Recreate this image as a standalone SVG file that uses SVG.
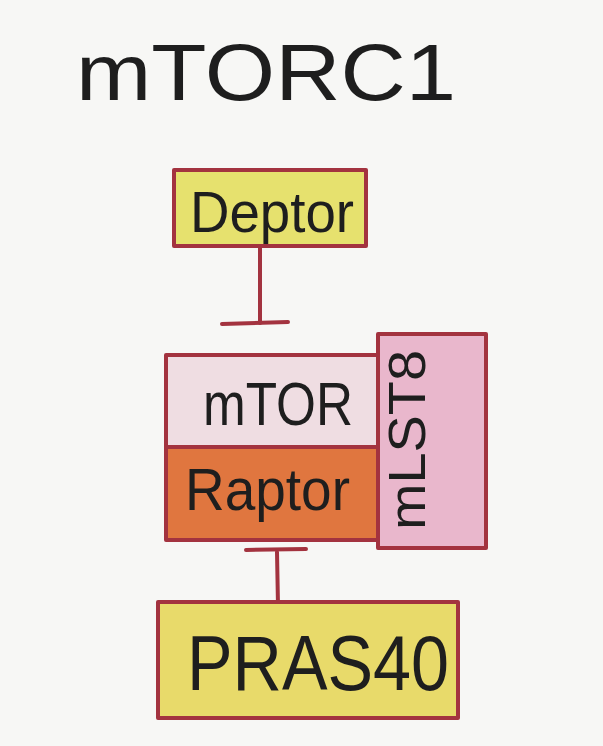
<svg xmlns="http://www.w3.org/2000/svg" width="603" height="746" viewBox="0 0 603 746">
<style>
.lbl{font-family:"Liberation Sans","DejaVu Sans",sans-serif;fill:#1e1e1e;}
.box{stroke:#a3333f;stroke-width:4;stroke-linejoin:round;}
.conn{stroke:#a3333f;stroke-width:4;stroke-linecap:round;fill:none;}
</style>
<rect x="0" y="0" width="603" height="746" fill="#f7f7f5"/>
<g id="title">
<text class="lbl" x="76" y="100" font-size="80" textLength="380" lengthAdjust="spacingAndGlyphs">mTORC1</text>
</g>
<g id="connectors">
<line class="conn" x1="260" y1="248" x2="260" y2="323"/>
<line class="conn" x1="222" y1="324" x2="288" y2="322" stroke-width="6"/>
<line class="conn" x1="277" y1="552" x2="278" y2="606"/>
<line class="conn" x1="246" y1="550" x2="306" y2="549" stroke-width="6"/>
</g>
<g id="deptor">
<rect class="box" x="174" y="170" width="192" height="76" fill="#e6e16e"/>
<text class="lbl" x="190" y="232" font-size="58" textLength="164" lengthAdjust="spacingAndGlyphs">Deptor</text>
</g>
<g id="mlst8">
<rect class="box" x="378" y="334" width="108" height="214" fill="#e9b7cc"/>
<text class="lbl" transform="translate(425,440) rotate(-90)" text-anchor="middle" font-size="52" textLength="180" lengthAdjust="spacingAndGlyphs">mLST8</text>
</g>
<g id="mtor">
<rect class="box" x="166" y="355" width="212" height="92" fill="#efdde2"/>
<text class="lbl" x="203" y="425" font-size="62" textLength="150" lengthAdjust="spacingAndGlyphs">mTOR</text>
</g>
<g id="raptor">
<rect class="box" x="166" y="447" width="212" height="93" fill="#e0763f"/>
<text class="lbl" x="185" y="510" font-size="60" textLength="165" lengthAdjust="spacingAndGlyphs">Raptor</text>
</g>
<g id="pras40">
<rect class="box" x="158" y="602" width="300" height="116" fill="#e8da6a"/>
<text class="lbl" x="187" y="690" font-size="78" textLength="262" lengthAdjust="spacingAndGlyphs">PRAS40</text>
</g>
</svg>
